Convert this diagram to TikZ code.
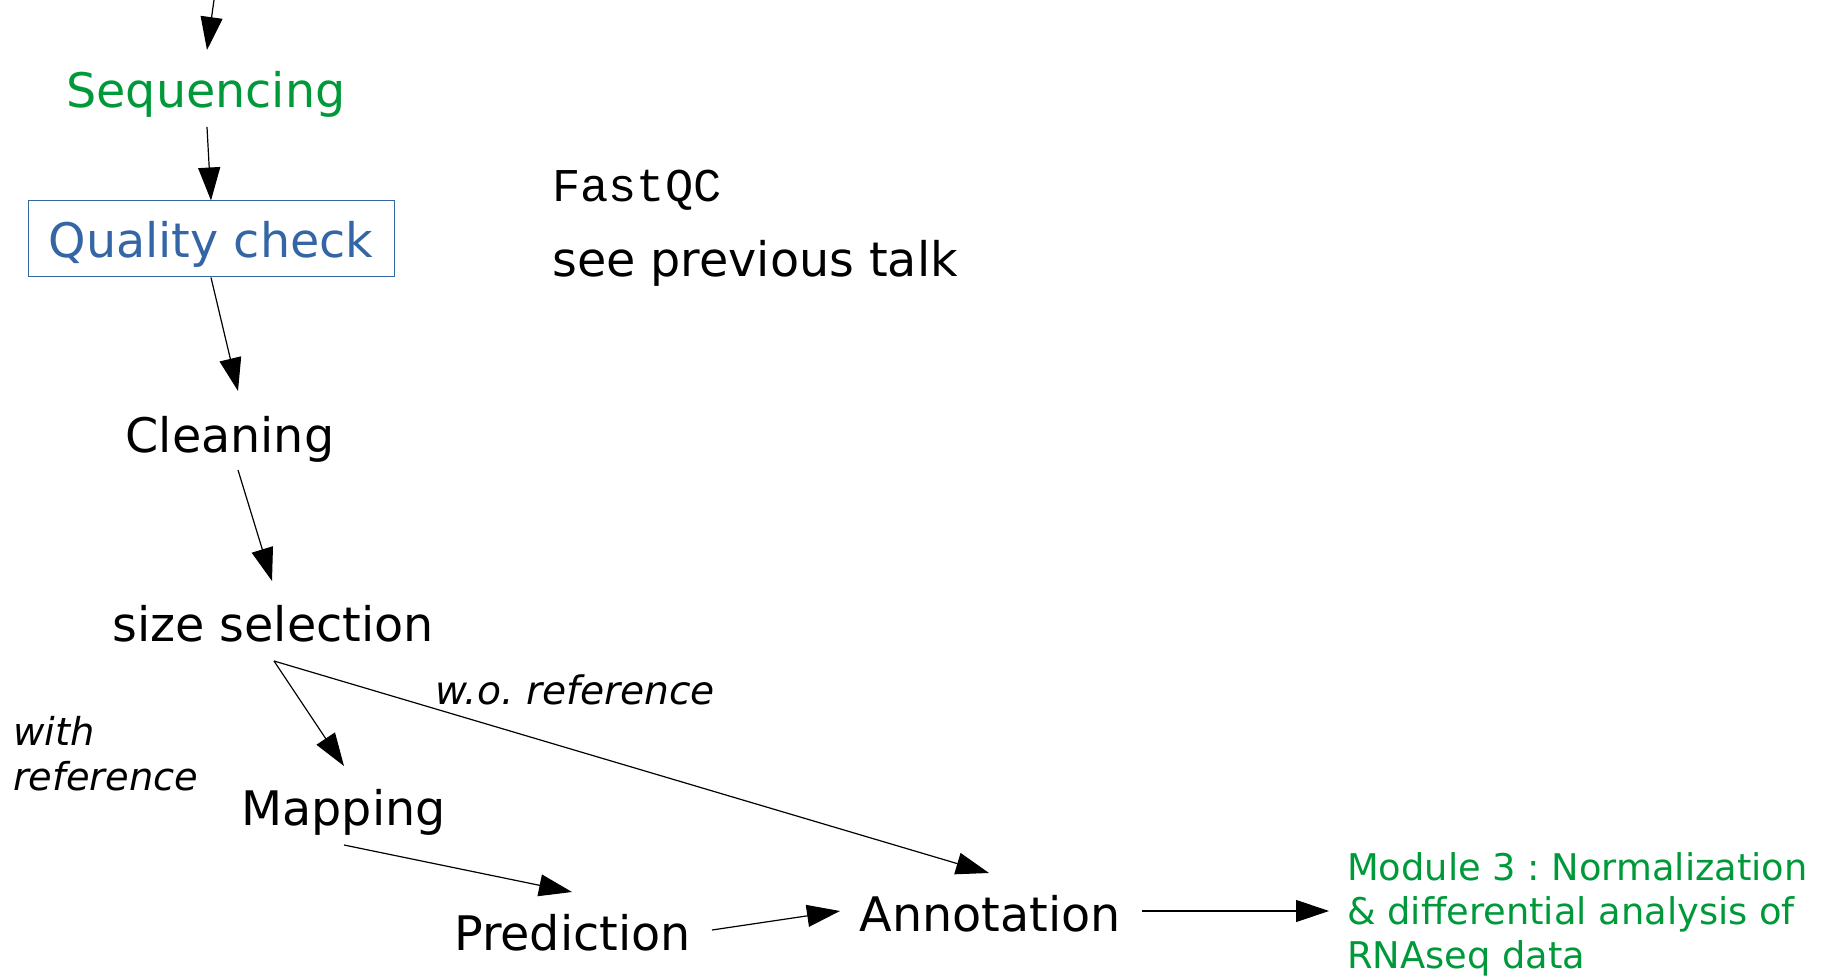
\documentclass[tikz,border=0pt]{standalone}
\usepackage{fontspec}
\setmainfont{DejaVu Sans}
\newfontfamily\monofnt{Liberation Mono}
\usetikzlibrary{arrows.meta,calc}
\definecolor{modgreen}{HTML}{00993A}
\definecolor{qcblue}{HTML}{3465A4}
\tikzset{
  big/.style={inner sep=0pt,font=\fontsize{47.6}{57}\selectfont},
  arr/.style={line width=1.2pt,-{Triangle[length=33pt,width=22pt]}},
  lbl/.style={inner sep=0pt,font=\fontsize{38.4}{45}\selectfont\itshape},
}
\frenchspacing
\begin{document}
\begin{tikzpicture}[x=1pt,y=-1pt]
\useasboundingbox (0,0) rectangle (1829,976);
% nodes
\node[big,anchor=base,text=modgreen] (seq) at (206,108) {Sequencing};
\node[big,draw=qcblue,line width=1pt,text=qcblue,text depth=0pt,minimum width=366pt,minimum height=76pt] (qc) at (211,239) {Quality check};
\node[big,anchor=base] (clean) at (230,452) {Cleaning};
\node[big,anchor=base] (size) at (273,641) {size selection};
\node[big,anchor=base] (map) at (343.5,825) {Mapping};
\node[big,anchor=base] (pred) at (572.5,950) {Prediction};
\node[big,anchor=base] (annot) at (990,931) {Annotation};
\node[inner sep=0pt,anchor=base west,font=\fontsize{47}{57}\selectfont\monofnt] (fastqc) at (552,202) {FastQC};
\node[big,anchor=base west] (see) at (552,277) {see previous talk};
\node[lbl,anchor=base west,font=\fontsize{39.2}{45}\selectfont\itshape] (wo) at (435,704) {w.o. reference};
\node[lbl,anchor=north west,align=left] (with) at (13,716) {with\\reference};
\node[inner sep=0pt,anchor=north west,align=left,text=modgreen,font=\fontsize{36.8}{44}\selectfont] (mod) at (1347,852) {Module 3 : Normalization\\\& differential analysis of\\RNAseq data};
% connectors
\coordinate (topin) at (214,0);
\draw[arr] (topin) -- ($(seq.base)+(1,-58)$);
\draw[arr] ($(seq.base)+(1,19)$) -- (qc.north);
\draw[arr] (qc.south) -- ($(clean.base)+(8,-61)$);
\draw[arr] ($(clean.base)+(8,18)$) -- ($(size.base)+(-1,-60)$);
\draw[arr] ($(size.base)+(1,20)$) -- ($(map.base)+(0.5,-59)$);
\draw[arr] ($(size.base)+(1,20)$) -- ($(annot.base)+(-1,-58)$);
\draw[arr] ($(map.base)+(0.5,20)$) -- ($(pred.base)+(-0.5,-58)$);
\draw[arr] ($(pred.base)+(139.5,-20)$) -- ($(annot.base)+(-150,-20)$);
\draw[arr] ($(annot.base)+(152,-20)$) -- ($(mod.north west)+(-18,59)$);
\end{tikzpicture}
\end{document}
